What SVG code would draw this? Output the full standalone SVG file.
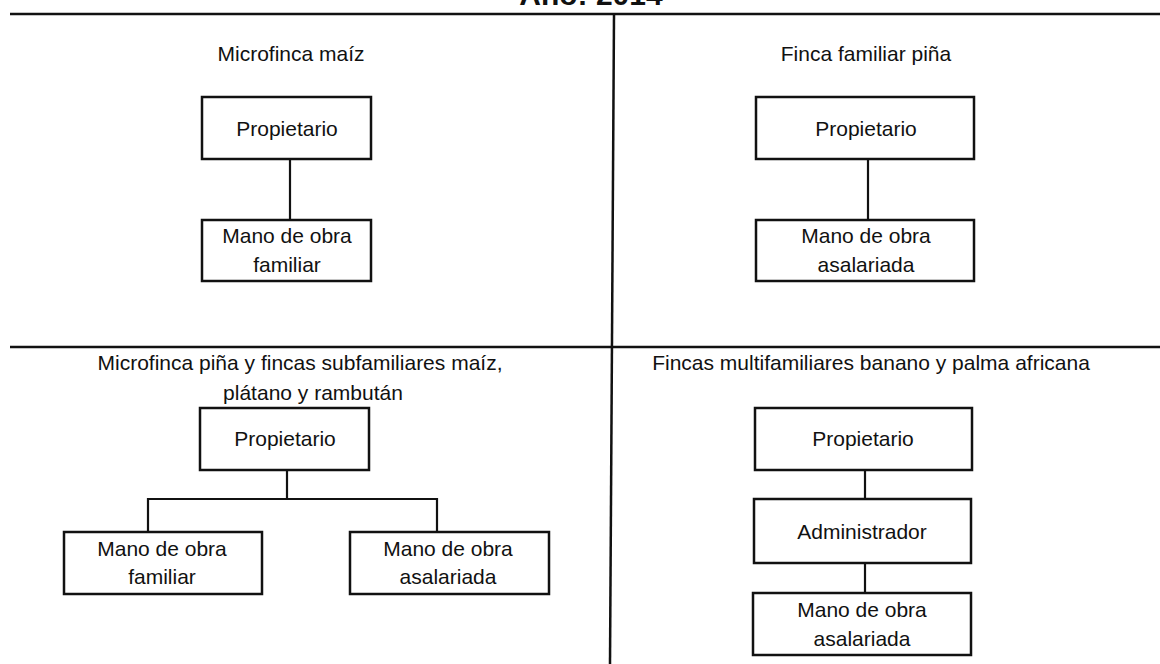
<svg xmlns="http://www.w3.org/2000/svg" width="1160" height="664" viewBox="0 0 1160 664">
<style>
  text { font-family: "Liberation Sans", Arial, sans-serif; font-size: 21px; fill: #111; text-anchor: middle; }
  .title { font-weight: bold; font-size: 30px; }
  .box { fill: #fff; stroke: #111; stroke-width: 2.5; }
  .line { stroke: #111; stroke-width: 2.2; fill: none; }
  .frame { stroke: #111; stroke-width: 2.5; fill: none; }
</style>
<rect width="1160" height="664" fill="#fff"/>
<g id="frame">
  <text class="title" x="591" y="5">Año: 2014</text>
  <line class="frame" x1="10" y1="14" x2="1160" y2="14"/>
  <line class="frame" x1="10" y1="347" x2="1160" y2="347"/>
  <line class="frame" x1="614" y1="14" x2="610" y2="664"/>
  <text x="291" y="61">Microfinca maíz</text>
  <text x="866" y="61">Finca familiar piña</text>
  <text x="300" y="370">Microfinca piña y fincas subfamiliares maíz,</text>
  <text x="313" y="400">plátano y rambután</text>
  <text x="871" y="370">Fincas multifamiliares banano y palma africana</text>
</g>
<g id="connectors">
  <line class="line" x1="290" y1="159" x2="290" y2="220"/>
  <line class="line" x1="868" y1="159" x2="868" y2="220"/>
  <polyline class="line" points="287,470 287,499"/>
  <polyline class="line" points="148,532 148,499 437,499 437,532"/>
  <line class="line" x1="865" y1="470" x2="865" y2="499"/>
  <line class="line" x1="865" y1="563" x2="865" y2="593"/>
</g>
<g id="tl-propietario">
  <rect class="box" x="202" y="97" width="169" height="62"/>
  <text x="287" y="136">Propietario</text>
</g>
<g id="tl-mano">
  <rect class="box" x="202" y="220" width="169" height="61"/>
  <text x="287" y="243">Mano de obra</text>
  <text x="287" y="272">familiar</text>
</g>
<g id="tr-propietario">
  <rect class="box" x="756" y="97" width="218" height="62"/>
  <text x="866" y="136">Propietario</text>
</g>
<g id="tr-mano">
  <rect class="box" x="756" y="220" width="218" height="61"/>
  <text x="866" y="243">Mano de obra</text>
  <text x="866" y="272">asalariada</text>
</g>
<g id="bl-propietario">
  <rect class="box" x="200" y="408" width="169" height="62"/>
  <text x="285" y="446">Propietario</text>
</g>
<g id="bl-familiar">
  <rect class="box" x="64" y="532" width="198" height="62"/>
  <text x="162" y="556">Mano de obra</text>
  <text x="162" y="584">familiar</text>
</g>
<g id="bl-asalariada">
  <rect class="box" x="350" y="532" width="199" height="62"/>
  <text x="448" y="556">Mano de obra</text>
  <text x="448" y="584">asalariada</text>
</g>
<g id="br-propietario">
  <rect class="box" x="755" y="408" width="217" height="62"/>
  <text x="863" y="446">Propietario</text>
</g>
<g id="br-administrador">
  <rect class="box" x="754" y="499" width="217" height="64"/>
  <text x="862" y="539">Administrador</text>
</g>
<g id="br-mano">
  <rect class="box" x="753" y="593" width="218" height="62"/>
  <text x="862" y="617">Mano de obra</text>
  <text x="862" y="646">asalariada</text>
</g>
</svg>
